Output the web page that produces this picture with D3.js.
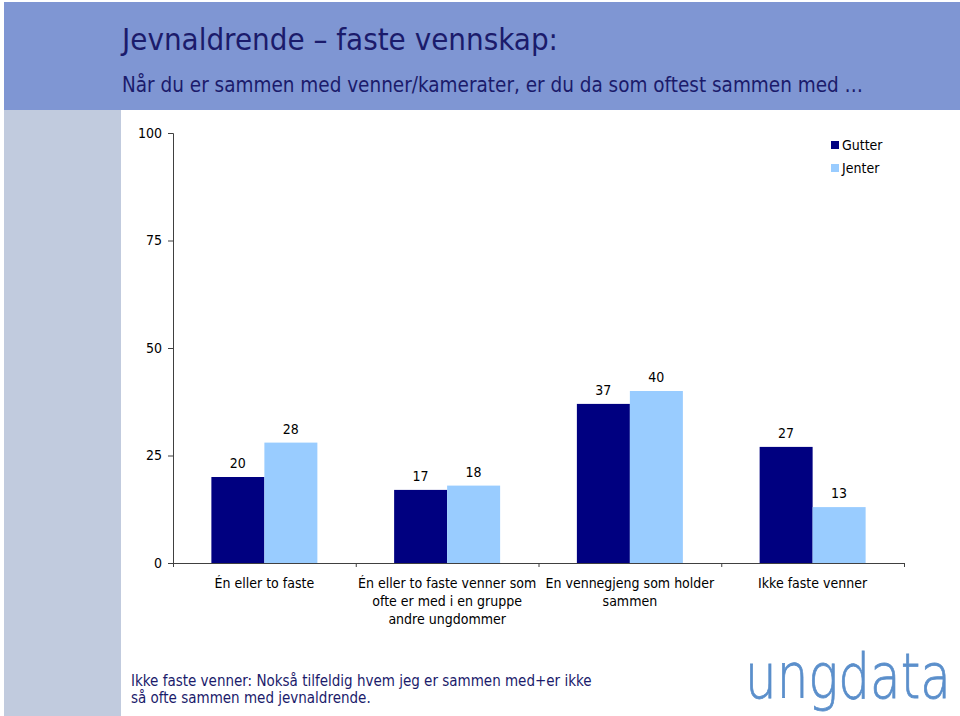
<!DOCTYPE html>
<html>
<head>
<meta charset="utf-8">
<script src="https://cdn.jsdelivr.net/npm/d3@7"></script>
<style>
  body { margin: 0; background: #fff; }
  svg { display: block; font-family: "DejaVu Sans Condensed", "DejaVu Sans", sans-serif; }
</style>
</head>
<body>
<svg id="chart" width="960" height="716"></svg>
<script>
// chart data
const categories = [
  ["Én eller to faste"],
  ["Én eller to faste venner som", "ofte er med i en gruppe", "andre ungdommer"],
  ["En vennegjeng som holder", "sammen"],
  ["Ikke faste venner"]
];
const series = ["Gutter", "Jenter"];
const gutter = [20, 17, 37, 27];
const jenter = [28, 18, 40, 13];
const yTicks = [0, 25, 50, 75, 100];
const colors = ["#000080", "#99CCFF"];

const svg = d3.select("#chart");
const navy = "#1B1B6B";

// background bands
svg.append("rect").attr("x", 4).attr("y", 2).attr("width", 956).attr("height", 108).attr("fill", "#7F96D3");
svg.append("rect").attr("x", 4).attr("y", 110).attr("width", 117).attr("height", 606).attr("fill", "#C1CBDE");

svg.append("text").attr("x", 122).attr("y", 50)
  .attr("font-size", 31).attr("fill", navy)
  .text("Jevnaldrende – faste vennskap:");
svg.append("text").attr("x", 122).attr("y", 92)
  .attr("font-size", 20.5).attr("fill", navy)
  .text("Når du er sammen med venner/kamerater, er du da som oftest sammen med …");

// plot
const x0 = d3.scaleBand().domain(d3.range(categories.length)).range([173, 904]);
const x1 = d3.scaleBand().domain(series).range([x0.bandwidth() * 0.21, x0.bandwidth() * 0.79]);
const y = d3.scaleLinear().domain([0, 100]).range([563, 133]);

const data = categories.map((c, i) => ({i, values: [gutter[i], jenter[i]]}));

const groups = svg.append("g").selectAll("g").data(data).join("g")
  .attr("transform", d => `translate(${x0(d.i)},0)`);

groups.selectAll("rect").data(d => d.values.map((v, j) => ({v, s: series[j], j})))
  .join("rect")
  .attr("x", d => x1(d.s))
  .attr("y", d => y(d.v))
  .attr("width", x1.bandwidth())
  .attr("height", d => y(0) - y(d.v))
  .attr("fill", d => colors[d.j]);

groups.selectAll("text.val").data(d => d.values.map((v, j) => ({v, s: series[j]})))
  .join("text").attr("class", "val")
  .attr("x", d => x1(d.s) + x1.bandwidth() / 2)
  .attr("y", d => y(d.v) - 9)
  .attr("text-anchor", "middle")
  .attr("font-size", 14).attr("fill", "#000")
  .text(d => d.v);

// y axis
const yAxis = svg.append("g").attr("transform", "translate(173,0)")
  .call(d3.axisLeft(y).tickValues(yTicks).tickSize(5).tickPadding(6));
yAxis.select(".domain").attr("stroke", "#404040");
yAxis.selectAll(".tick line").attr("stroke", "#404040");
yAxis.selectAll(".tick text").attr("font-size", 14).attr("fill", "#000")
  .attr("font-family", "DejaVu Sans Condensed, DejaVu Sans, sans-serif");

// x axis
const xAxis = svg.append("g").attr("transform", `translate(0,${y(0)})`)
  .call(d3.axisBottom(d3.scaleLinear().domain([0, 4]).range([173, 904]))
    .ticks(4).tickSize(4).tickFormat(""));
xAxis.select(".domain").attr("stroke", "#404040");
xAxis.selectAll(".tick line").attr("stroke", "#404040");

// category labels
const catLabels = svg.append("g").selectAll("text").data(categories).join("text")
  .attr("text-anchor", "middle")
  .attr("font-size", 14).attr("fill", "#000")
  .attr("x", (d, i) => x0(i) + x0.bandwidth() / 2)
  .attr("y", 588);
catLabels.selectAll("tspan").data(d => d).join("tspan")
  .attr("x", function() { return d3.select(this.parentNode).attr("x"); })
  .attr("dy", (d, k) => k === 0 ? 0 : 18)
  .text(d => d);

// legend
const legend = svg.append("g").attr("transform", "translate(831,141)");
series.forEach((s, j) => {
  legend.append("rect").attr("x", 0).attr("y", j * 23).attr("width", 8).attr("height", 8).attr("fill", colors[j]);
  legend.append("text").attr("x", 11).attr("y", j * 23 + 9)
    .attr("font-size", 14).attr("fill", "#000").text(s);
});

// footer
svg.append("text").attr("x", 131).attr("y", 686)
  .attr("font-size", 15).attr("fill", navy)
  .selectAll("tspan")
  .data(["Ikke faste venner: Nokså tilfeldig hvem jeg er sammen med+er ikke", "så ofte sammen med jevnaldrende."])
  .join("tspan").attr("x", 131).attr("dy", (d, k) => k === 0 ? 0 : 17).text(d => d);

// logo, squeezed horizontally to fit
const logo = svg.append("g");
const logoText = logo.append("text").attr("x", 0).attr("y", 0)
  .attr("font-size", 62).attr("font-weight", 200)
  .attr("font-family", "DejaVu Sans, sans-serif")
  .attr("fill", "#5B8FCB").attr("stroke", "#5B8FCB").attr("stroke-width", 0.8)
  .text("ungdata");
const sx = 206 / logoText.node().getComputedTextLength();
logo.attr("transform", `translate(745,698) scale(${sx},1)`);
</script>
</body>
</html>
